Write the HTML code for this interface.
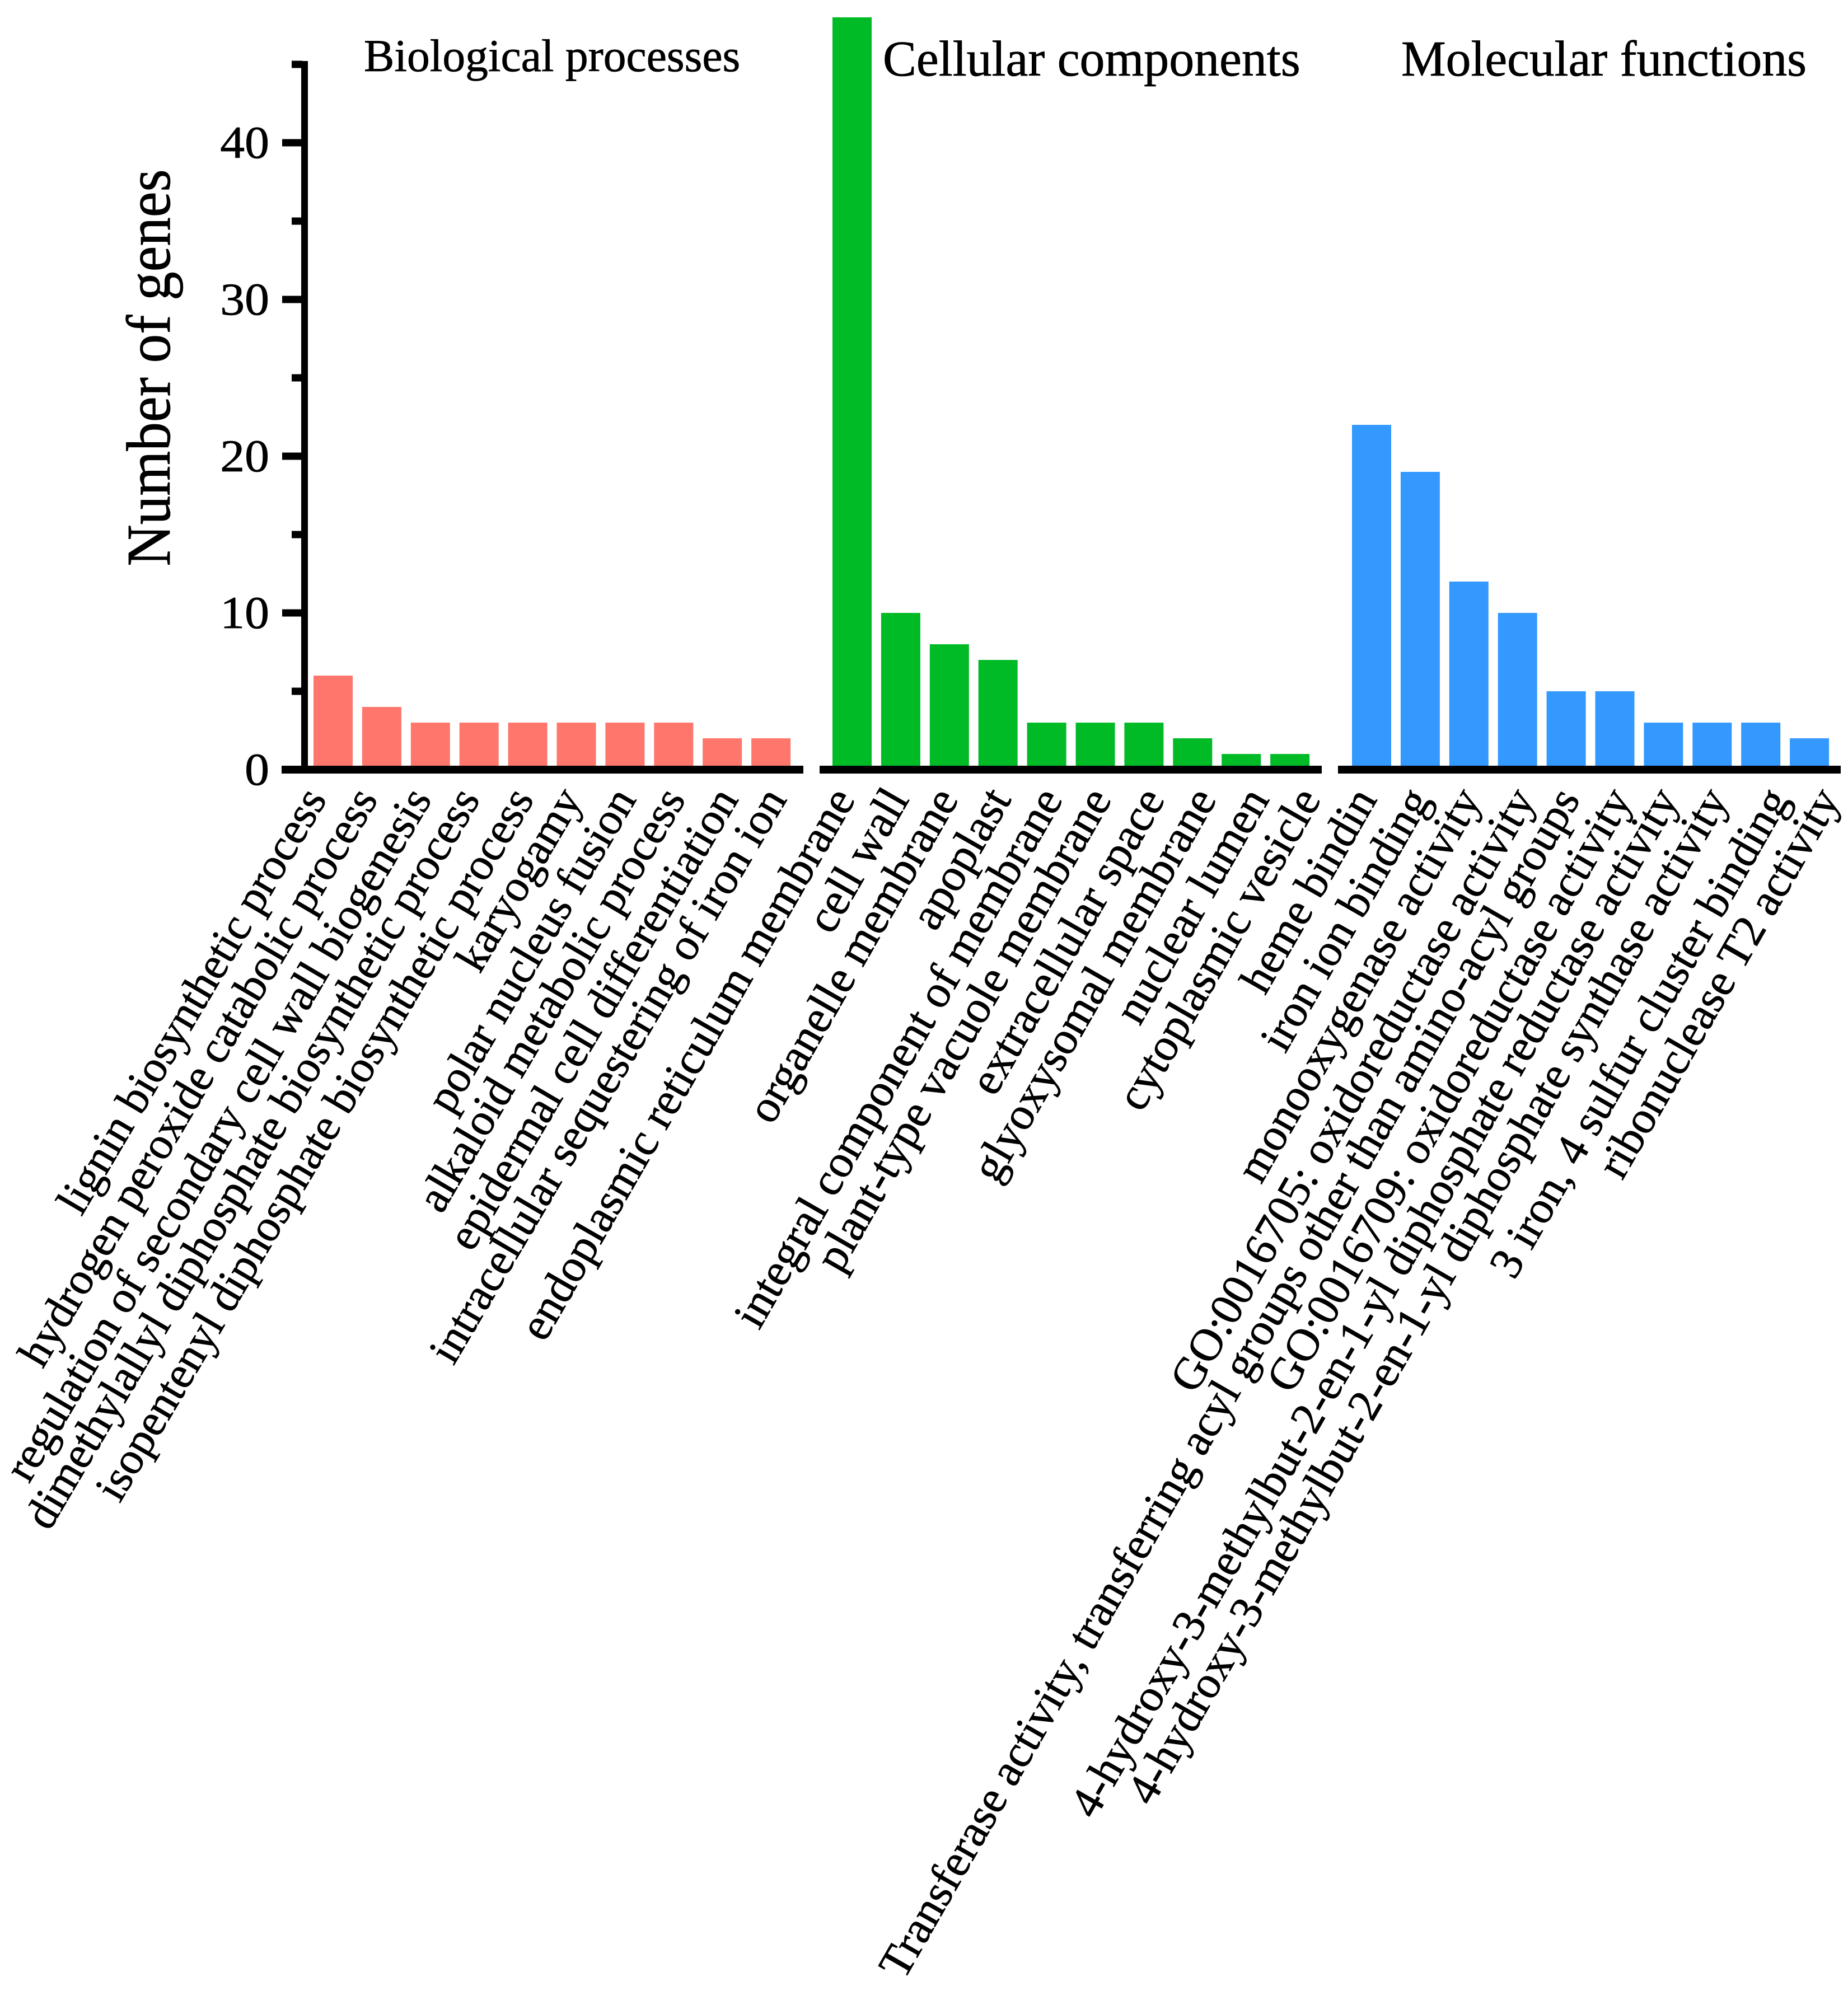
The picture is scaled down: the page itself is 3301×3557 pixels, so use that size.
<!DOCTYPE html>
<html lang="en">
<head>
<meta charset="utf-8">
<title>Number of genes by GO category</title>
<style>
html,body{margin:0;padding:0;background:#fff;}
svg{display:block;}
text{font-family:"Liberation Serif",serif;fill:#000;stroke:#000;stroke-width:0.8px;}
</style>
</head>
<body>
<svg id="chart" xmlns="http://www.w3.org/2000/svg" width="3301" height="3557" viewBox="0 0 3301 3557">
<rect x="0" y="0" width="3301" height="3557" fill="#fff"/>
<g id="bars"></g>
<g id="axes"></g>
<g id="labels"></g>
<text transform="translate(303,657) scale(1.08,1) rotate(-90)" text-anchor="middle" font-size="103">Number of genes</text>
<text x="650" y="127" font-size="81.5">Biological processes</text>
<text x="1577" y="135" font-size="89.8">Cellular components</text>
<text x="2503" y="135" font-size="89.6">Molecular functions</text>
</svg>
<script>
const biologicalCategories = ["lignin biosynthetic process","hydrogen peroxide catabolic process","regulation of secondary cell wall biogenesis","dimethylallyl diphosphate biosynthetic process","isopentenyl diphosphate biosynthetic process","karyogamy","polar nucleus fusion","alkaloid metabolic process","epidermal cell differentiation","intracellular sequestering of iron ion"];
const biologicalValues = [6,4,3,3,3,3,3,3,2,2];
const cellularCategories = ["endoplasmic reticulum membrane","cell wall","organelle membrane","apoplast","integral component of membrane","plant-type vacuole membrane","extracellular space","glyoxysomal membrane","nuclear lumen","cytoplasmic vesicle"];
const cellularValues = [48,10,8,7,3,3,3,2,1,1];
const molecularCategories = ["heme bindin","iron ion binding","monooxygenase activity","GO:0016705: oxidoreductase activity","Transferase activity, transferring acyl groups other than amino-acyl groups","GO:0016709: oxidoreductase activity","4-hydroxy-3-methylbut-2-en-1-yl diphosphate reductase activity","4-hydroxy-3-methylbut-2-en-1-yl diphosphate synthase activity","3 iron, 4 sulfur cluster binding","ribonuclease T2 activity"];
const molecularValues = [22,19,12,10,5,5,3,3,3,2];
const majorTicks = [0,10,20,30,40];
const minorTicks = [5,15,25,35,45];

const NS = 'http://www.w3.org/2000/svg';
const baselineY = 1375;
const unitsPerPixel = 28;
function yScale(v){ return baselineY - v * unitsPerPixel; }
function barX(start, i){ return start + i * 86.9; }
function labelX(start, pitch, i){ return start + i * pitch; }

const groups = [
  {key:'biological', cats:biologicalCategories, vals:biologicalValues, color:'#FF766D', barStart:560, axisFrom:503, axisTo:1435, labelStart:585, labelPitch:91.3, labelFont:80.8, labelAngle:-59.5, nudge:[0,0,5,0,5,0,5,2,5,0]},
  {key:'cellular', cats:cellularCategories, vals:cellularValues, color:'#00BA26', barStart:1487, axisFrom:1464, axisTo:2361, labelStart:1524, labelPitch:92.2, labelFont:82.3, labelAngle:-60.2, nudge:[5,9,5,7,7,2,5,5,7,7]},
  {key:'molecular', cats:molecularCategories, vals:molecularValues, color:'#3399FF', barStart:2415, axisFrom:2390, axisTo:3288, labelStart:2461, labelPitch:90.7, labelFont:81.5, labelAngle:-60.2, nudge:[0,5,5,11,0,2,-5,-7,11,11]}
];
const barsG = document.getElementById('bars');
const axesG = document.getElementById('axes');
const labelsG = document.getElementById('labels');

function makeRect(x,y,w,h,fill){
  const r = document.createElementNS(NS,'rect');
  r.setAttribute('x',x);
  r.setAttribute('y',y);
  r.setAttribute('width',w);
  r.setAttribute('height',h);
  r.setAttribute('fill',fill);
  return r;
}

groups.forEach(function(g){
  g.vals.forEach(function(v,i){
    const top = yScale(v);
    const bar = makeRect(barX(g.barStart,i), top, 70, baselineY - top, g.color);
    
    
    barsG.appendChild(bar);
  });
  const axis = makeRect(g.axisFrom, baselineY - 7, g.axisTo - g.axisFrom, 14, '#000');
  
  
  axesG.appendChild(axis);
  g.cats.forEach(function(c,i){
    const t = document.createElementNS(NS,'text');
    t.setAttribute('text-anchor','end');
    t.setAttribute('font-size',g.labelFont);
    t.setAttribute('transform','translate(' + (labelX(g.labelStart,g.labelPitch,i) + g.nudge[i]) + ',1428) rotate(' + g.labelAngle + ')');
    
    
    t.textContent = c;
    labelsG.appendChild(t);
  });
});

const yAxis = makeRect(538, yScale(45) - 6, 12, baselineY - yScale(45) + 13, '#000');


axesG.appendChild(yAxis);

majorTicks.forEach(function(v){
  const y = yScale(v);
  const tick = makeRect(504, y - 6.5, 36, 13, '#000');
  
  
  axesG.appendChild(tick);
  const t = document.createElementNS(NS,'text');
  t.setAttribute('text-anchor','end');
  t.setAttribute('font-size','82');
  t.setAttribute('transform','translate(481,' + (y + 27) + ') scale(1.07,1)');
  
  
  t.textContent = String(v);
  axesG.appendChild(t);
});
minorTicks.forEach(function(v){
  const tick = makeRect(521, yScale(v) - 6.5, 19, 13, '#000');
  
  
  axesG.appendChild(tick);
});
</script>
</body>
</html>
